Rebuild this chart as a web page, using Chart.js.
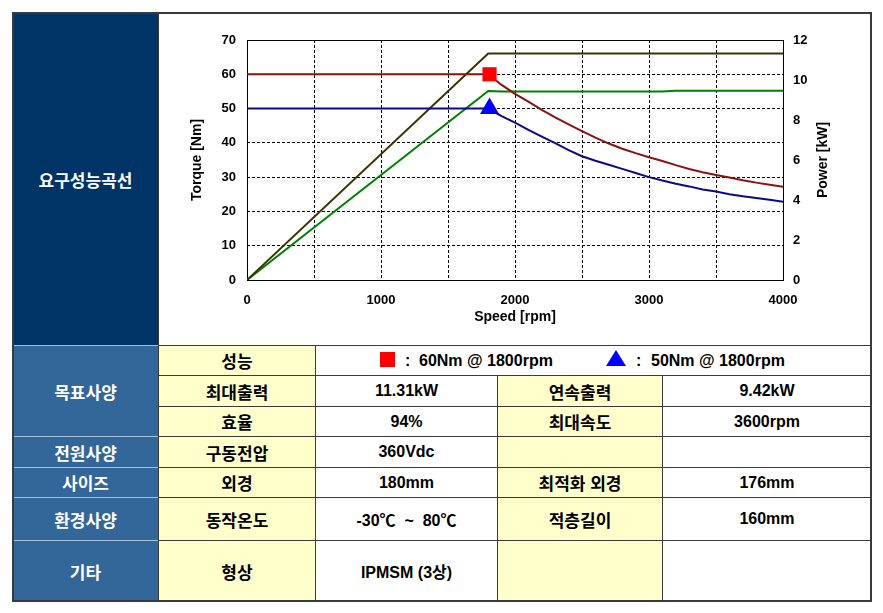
<!DOCTYPE html>
<html lang="ko">
<head>
<meta charset="utf-8">
<title>요구성능곡선</title>
<script src="https://cdn.jsdelivr.net/npm/chart.js@4.4.1/dist/chart.umd.min.js"></script>
<style>
  body { margin: 0; background: #fff; font-family: "Liberation Sans", "Noto Sans CJK KR", sans-serif; }
  .c {
    position: absolute; box-sizing: border-box; border: 1px solid #3a3a3a;
    display: flex; align-items: center; justify-content: center;
    font-size: 17px; font-weight: bold; color: #000; background: #fff;
  }
  .n { font-size: 16px; }
  .hd { background: #336699; color: #fff; border-color: #a9c0d8; }
  .top { background: #003366; color: #fff; border-color: #a9c0d8; }
  .y { background: #ffffcc; }
  .frame { position: absolute; box-sizing: border-box; border: 2px solid #3a3a3a; pointer-events: none; }
  .lg { position: absolute; font-size: 16px; font-weight: bold; line-height: 30px; top: 346px; }
  #chart { position: absolute; left: 160px; top: 14px; }
</style>
</head>
<body>

<!-- 왼쪽 제목 열 -->
<div class="c top" style="left:12px;top:12px;width:147px;height:334px;">요구성능곡선</div>
<div class="c" style="left:158px;top:12px;width:714px;height:334px;"></div>
<div class="c hd" style="left:12px;top:345px;width:147px;height:92px;">목표사양</div>
<div class="c hd" style="left:12px;top:436px;width:147px;height:32px;">전원사양</div>
<div class="c hd" style="left:12px;top:467px;width:147px;height:31px;">사이즈</div>
<div class="c hd" style="left:12px;top:497px;width:147px;height:44px;">환경사양</div>
<div class="c hd" style="left:12px;top:540px;width:147px;height:62px;">기타</div>

<!-- 항목 열 -->
<div class="c y" style="left:158px;top:345px;width:158px;height:31px;">성능</div>
<div class="c y" style="left:158px;top:375px;width:158px;height:32px;">최대출력</div>
<div class="c y" style="left:158px;top:406px;width:158px;height:31px;">효율</div>
<div class="c y" style="left:158px;top:436px;width:158px;height:32px;">구동전압</div>
<div class="c y" style="left:158px;top:467px;width:158px;height:31px;">외경</div>
<div class="c y" style="left:158px;top:497px;width:158px;height:44px;">동작온도</div>
<div class="c y" style="left:158px;top:540px;width:158px;height:62px;">형상</div>

<!-- 성능 행 -->
<div class="c" style="left:315px;top:345px;width:557px;height:31px;"></div>

<!-- 값 열 -->
<div class="c n" style="left:315px;top:375px;width:183px;height:32px;">11.31kW</div>
<div class="c n" style="left:315px;top:406px;width:183px;height:31px;">94%</div>
<div class="c n" style="left:315px;top:436px;width:183px;height:32px;">360Vdc</div>
<div class="c n" style="left:315px;top:467px;width:183px;height:31px;">180mm</div>
<div class="c n" style="left:315px;top:497px;width:183px;height:44px;">-30℃&nbsp; ~ &nbsp;80℃</div>
<div class="c n" style="left:315px;top:540px;width:183px;height:62px;">IPMSM (3상)</div>

<div class="c y" style="left:497px;top:375px;width:166px;height:32px;">연속출력</div>
<div class="c y" style="left:497px;top:406px;width:166px;height:31px;">최대속도</div>
<div class="c y" style="left:497px;top:436px;width:166px;height:32px;"></div>
<div class="c y" style="left:497px;top:467px;width:166px;height:31px;">최적화 외경</div>
<div class="c y" style="left:497px;top:497px;width:166px;height:44px;">적층길이</div>
<div class="c y" style="left:497px;top:540px;width:166px;height:62px;"></div>

<div class="c n" style="left:662px;top:375px;width:210px;height:32px;">9.42kW</div>
<div class="c n" style="left:662px;top:406px;width:210px;height:31px;">3600rpm</div>
<div class="c n" style="left:662px;top:436px;width:210px;height:32px;"></div>
<div class="c n" style="left:662px;top:467px;width:210px;height:31px;">176mm</div>
<div class="c n" style="left:662px;top:497px;width:210px;height:44px;">160mm</div>
<div class="c n" style="left:662px;top:540px;width:210px;height:62px;"></div>

<!-- 범례 -->
<div style="position:absolute;left:380px;top:352px;width:15px;height:15px;background:#ff0000;"></div>
<span class="lg" style="left:405px;">:</span>
<span class="lg" style="left:419px;">60Nm @ 1800rpm</span>
<div style="position:absolute;left:606px;top:350px;width:20px;height:16px;background:#0000ff;clip-path:polygon(50% 0,100% 100%,0 100%);"></div>
<span class="lg" style="left:636px;">:</span>
<span class="lg" style="left:651px;">50Nm @ 1800rpm</span>

<div class="frame" style="left:12px;top:12px;width:860px;height:590px;"></div>

<canvas id="chart" width="710" height="330"></canvas>

<script>
  // ---------- 데이터 ----------
  const speed = [0, 1800, 1900, 2000, 2100, 2200, 2300, 2400, 2500, 2600, 2700, 2800,
                 2900, 3000, 3100, 3200, 3300, 3400, 3500, 3600, 3700, 3800, 3900, 4000];
  const torqueMax = [60, 60, 56.9, 54.3, 52.0, 49.6, 47.4, 45.4, 43.4, 41.5, 39.8, 38.3,
                     37.0, 35.8, 34.7, 33.5, 32.4, 31.4, 30.6, 29.9, 29.1, 28.4, 27.8, 27.2];
  const torqueCont = [50, 50, 47.8, 45.9, 43.8, 41.8, 39.9, 37.9, 36.1, 34.8, 33.6, 32.4,
                      31.2, 30.0, 29.0, 28.1, 27.3, 26.4, 25.8, 25.0, 24.4, 23.9, 23.4, 22.8];
  const powerMax = [0, 11.33, 11.33, 11.33, 11.33, 11.33, 11.33, 11.33, 11.33, 11.33, 11.33, 11.33,
                    11.33, 11.33, 11.33, 11.33, 11.33, 11.33, 11.33, 11.33, 11.33, 11.33, 11.33, 11.33];
  const powerCont = [0, 9.45, 9.42, 9.42, 9.42, 9.42, 9.42, 9.42, 9.42, 9.42, 9.42, 9.42,
                     9.42, 9.42, 9.42, 9.46, 9.46, 9.46, 9.46, 9.46, 9.46, 9.46, 9.46, 9.46];
  const markSpeed = [1810];
  const markMax = [60];
  const markCont = [50];
  const speedLabels = [0, 1000, 2000, 3000, 4000];

  const pts = (xs, ys) => xs.map((x, i) => ({ x: x, y: ys[i] }));
  const tickFont = { family: "Liberation Sans", size: 13, weight: "bold" };
  const titleFont = { family: "Liberation Sans", size: 14, weight: "bold" };

  // 그래프 테두리 + 오른쪽 축 제목
  const framePlugin = {
    id: "frame",
    beforeDatasetsDraw(chart) {
      const { ctx, chartArea: a } = chart;
      ctx.save();
      ctx.strokeStyle = "#000";
      ctx.lineWidth = 1;
      ctx.strokeRect(Math.round(a.left) + 0.5, Math.round(a.top) + 0.5,
                     Math.round(a.width), Math.round(a.height));
      ctx.restore();
    },
    afterDraw(chart) {
      const { ctx } = chart;
      const s = chart.scales.y1;
      ctx.save();
      ctx.translate(s.right - 47, (s.top + s.bottom) / 2);
      ctx.rotate(-Math.PI / 2);
      ctx.font = "bold 14px 'Liberation Sans'";
      ctx.fillStyle = "#000";
      ctx.textAlign = "center";
      ctx.textBaseline = "middle";
      ctx.fillText("Power [kW]", 0, 0);
      ctx.restore();
    }
  };

  new Chart(document.getElementById("chart"), {
    type: "line",
    data: {
      datasets: [
        { data: pts(markSpeed, markMax), yAxisID: "y", showLine: false,
          pointStyle: "rect", pointRadius: 10, pointBackgroundColor: "#ff0000", pointBorderWidth: 0 },
        { data: pts(markSpeed, markCont), yAxisID: "y", showLine: false,
          pointStyle: "triangle", pointRadius: 11, pointBackgroundColor: "#0000ff", pointBorderWidth: 0 },
        { data: pts(speed, torqueMax), yAxisID: "y", borderColor: "#8b1010", borderWidth: 2, pointRadius: 0 },
        { data: pts(speed, torqueCont), yAxisID: "y", borderColor: "#0a0a88", borderWidth: 2, pointRadius: 0 },
        { data: pts(speed, powerMax), yAxisID: "y1", borderColor: "#3a3300", borderWidth: 2, pointRadius: 0 },
        { data: pts(speed, powerCont), yAxisID: "y1", borderColor: "#008000", borderWidth: 2, pointRadius: 0 }
      ]
    },
    options: {
      responsive: false,
      animation: false,
      devicePixelRatio: 1,
      layout: { padding: { top: 26, left: 0, right: 0, bottom: 0 } },
      plugins: { legend: { display: false }, tooltip: { enabled: false } },
      scales: {
        x: {
          type: "linear", min: 0, max: 4000,
          ticks: {
            stepSize: 500, autoSkip: false, maxRotation: 0, padding: 13,
            color: "#000", font: tickFont,
            callback: v => speedLabels.includes(v) ? v : ""
          },
          grid: { color: "#000", drawTicks: false },
          border: { display: false, dash: [3, 2] },
          title: { display: true, text: "Speed [rpm]", color: "#000", font: titleFont,
                   padding: { top: 0, bottom: 18 } },
          afterFit: s => { s.height = 64; }
        },
        y: {
          position: "left", min: 0, max: 70,
          ticks: { stepSize: 10, padding: 11, color: "#000", font: tickFont },
          grid: { color: "#000", drawTicks: false },
          border: { display: false, dash: [3, 2] },
          title: { display: true, text: "Torque [Nm]", color: "#000", font: titleFont,
                   padding: { top: 29, bottom: 0 } },
          afterFit: s => { s.width = 87; }
        },
        y1: {
          position: "right", min: 0, max: 12,
          ticks: { stepSize: 2, padding: 10, color: "#000", font: tickFont },
          grid: { drawOnChartArea: false, drawTicks: false },
          border: { display: false },
          afterFit: s => { s.width = 87; }
        }
      }
    },
    plugins: [framePlugin]
  });
</script>
</body>
</html>
